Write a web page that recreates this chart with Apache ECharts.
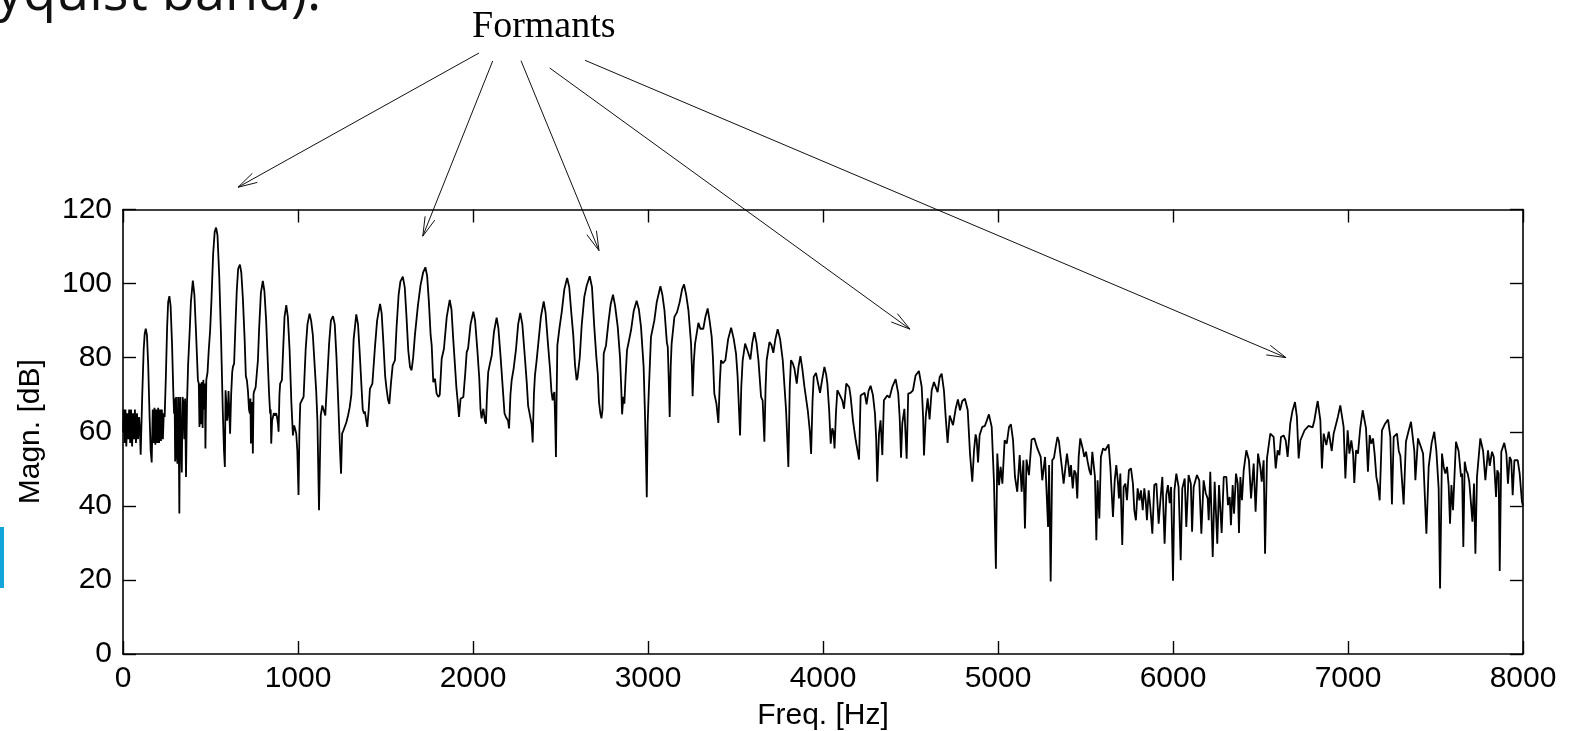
<!DOCTYPE html>
<html><head><meta charset="utf-8">
<script src="https://cdn.jsdelivr.net/npm/echarts@6/dist/echarts.min.js"></script>
<style>html,body{margin:0;padding:0;background:#fff;overflow:hidden}#c{width:1570px;height:731px}</style>
</head><body><div id="c"></div>
<script>
// Spectrum values: [frequency Hz, magnitude dB]
const band0k = [[0,60],[4,66],[9,57],[14,66],[19,56],[25,65],[30,58],[35,66],[41,57],[46,66],[52,56],[57,65],[63,58],[68,66],[74,57],[80,65],[86,58],[92,64],[97,60],[101,53.8],[110,70],[118,82],[124,86.5],[130,87.8],[137,86],[144,78],[152,64],[158,55],[164,51.7],[170,66],[175,57],[180,66.5],[185,56.5],[190,66],[196,57],[201,66.5],[206,57],[212,66],[217,57.5],[222,66],[228,58],[233,65],[238,64],[245,75],[252,88],[258,95],[265,96.6],[272,94],[280,84],[288,70],[292,64.9],[295,69],[298,52],[303,69.4],[307,54],[311,51.4],[315,69.4],[319,56],[322,37.9],[326,69.4],[331,58],[336,49],[340,69.4],[345,68],[350,58],[355,69],[360,47.8],[366,68],[372,78],[380,86],[388,95],[399,100.8],[408,97],[418,86],[428,74],[433,73],[437,61.3],[441,73],[446,62],[450,73.4],[455,61],[459,74],[464,66],[468,73],[471,55.5],[476,74],[483,76],[490,82],[498,87.4],[505,95],[515,108],[524,114],[532,115.1],[540,113],[550,102],[560,86],[570,66],[577,55],[582,50.5],[586,71.2],[590,68],[595,63],[599,64.9],[603,71],[607,66],[612,59.5],[618,70],[624,76],[628,77.5],[635,78.4],[642,88],[650,98],[658,104],[668,105.1],[676,103],[685,96],[695,85],[702,75],[708,73.9],[714,71],[720,66],[725,64.9],[728,69],[731,56.8],[735,68],[739,64.9],[742,54.1],[746,70],[748,70.7],[752,71],[758,72],[765,76],[771,79.3],[778,88],[788,97.5],[799,100.7],[808,98],[818,90],[828,78],[835,70],[841,64.9],[844,66],[847,56.8],[852,63],[856,63.1],[862,65],[868,64.4],[875,65],[880,64],[886,62],[889,60],[894,70],[898,73],[908,73.9],[915,82],[923,91],[933,94.2],[942,91],[952,82],[962,68],[971,59],[978,61.7],[985,60.5],[990,59.5],[996,55]];
const band1k = [[1003,42.9],[1008,60],[1013,67.6],[1022,68.5],[1032,69.4],[1044,82.4],[1054,89],[1066,91.9],[1075,90],[1085,86],[1095,78],[1104,71],[1111,63],[1120,38.8],[1130,64.4],[1139,67.1],[1148,66.7],[1156,64.4],[1166,73.4],[1178,84],[1188,90],[1200,91.2],[1210,89],[1220,80],[1230,68],[1240,55],[1246,48.7],[1252,59.5],[1260,60.4],[1267,60.9],[1276,62.5],[1286,64.4],[1295,66.5],[1305,70],[1318,85],[1333,91.7],[1343,89],[1353,81],[1363,72],[1370,66],[1377,64.9],[1382,65.5],[1388,63.6],[1396,61.3],[1404,66],[1411,71.6],[1425,73],[1440,83],[1452,90],[1469,94.5],[1478,92],[1488,84],[1498,75],[1506,71.6],[1515,68.5],[1522,67.5],[1531,73],[1541,77.9],[1554,79.3],[1563,88],[1575,97],[1585,100.5],[1599,101.9],[1610,99],[1620,91],[1630,82],[1640,77.5],[1649,76.6],[1658,80],[1668,86],[1685,94],[1700,99.5],[1715,103],[1728,104.4],[1738,102],[1748,95],[1758,86],[1764,83.3],[1773,73.4],[1783,74.3],[1792,70.3],[1802,69.4],[1810,70],[1821,79.7],[1834,82.4],[1850,91],[1867,95.6],[1877,93],[1887,85],[1897,77.9],[1905,72],[1912,68.5],[1920,64],[1929,68.9],[1945,69.4],[1956,76],[1964,81.5],[1972,82.5],[1986,89],[2002,92.4]];
const band2k = [[2012,90],[2025,82],[2036,74.3],[2043,66],[2049,63.6],[2054,65],[2059,66.2],[2064,64.5],[2068,63],[2074,62.2],[2080,70],[2087,76.1],[2095,78],[2107,80.6],[2120,87],[2135,90.8],[2145,88],[2158,80],[2173,69.8],[2180,65],[2188,64],[2195,64.5],[2200,63],[2206,60.9],[2214,70],[2221,73.9],[2232,77],[2246,82.4],[2258,89],[2270,92.1],[2282,89],[2295,81],[2307,73.4],[2315,67],[2322,65.3],[2328,65.8],[2335,62],[2341,57.1],[2348,70],[2354,75.2],[2363,79],[2373,83.8],[2388,91],[2404,95.2],[2415,92],[2428,84],[2440,77],[2448,71],[2455,68.5],[2460,70],[2465,70.7],[2470,62],[2474,53.2],[2478,70],[2482,83.3],[2494,88],[2507,92.3],[2522,98.5],[2538,101.5],[2550,99],[2562,92],[2573,86],[2583,78],[2592,73.9],[2597,74.5],[2602,74.8],[2610,80],[2621,88.7],[2636,96.4],[2650,99.5],[2667,102],[2680,99],[2693,88.3],[2705,80],[2713,75.7],[2720,68],[2728,64.9],[2734,63.6],[2740,66],[2747,81.1],[2760,83.3],[2774,89.6],[2787,94.5],[2800,97],[2812,94],[2827,88.3],[2840,80.2],[2847,72],[2852,64.7],[2859,69.4],[2865,67.6],[2872,75],[2880,82],[2893,85],[2903,87.4],[2918,92.5],[2935,95.4],[2948,93],[2960,88.3],[2975,77.5],[2982,66],[2988,54]];
const band3k = [[2993,42.3],[2998,62],[3004,70.3],[3017,85.6],[3036,90],[3050,95],[3071,99.3],[3082,97],[3094,92.8],[3108,84],[3113,82.9],[3118,75],[3124,64],[3130,78],[3135,83.8],[3151,91],[3166,92.3],[3181,95],[3195,98.5],[3206,99.8],[3218,97],[3231,92.8],[3246,83.8],[3251,77],[3255,69.6],[3262,79],[3269,83.8],[3288,89.4],[3299,87.8],[3316,87.8],[3328,91],[3341,93.3],[3352,90],[3364,85.6],[3371,80],[3379,70.3],[3391,67.6],[3402,62.4],[3410,73],[3417,79.3],[3428,78.5],[3442,79.3],[3458,85],[3475,88.1],[3490,85],[3503,81.1],[3512,75],[3520,66],[3526,59],[3533,72],[3541,79.3],[3555,83.8],[3568,82],[3585,79.5],[3596,84],[3608,86.9],[3620,84],[3631,79.3],[3646,69.4],[3655,68.5],[3665,57.3],[3672,72],[3678,79.3],[3694,84.2],[3705,83.5],[3716,81.3],[3728,85],[3741,87.7],[3755,85],[3770,79.3],[3789,65.8],[3796,58],[3802,50.5],[3810,72],[3817,79.3],[3827,78.5],[3837,77],[3850,73],[3860,77.5],[3871,80.4],[3882,77],[3894,72.1],[3913,65.8],[3925,60],[3932,54],[3940,68],[3947,74.8],[3960,75.9],[3972,73],[3983,70.5],[3995,74]];
const band4k = [[4008,77.5],[4018,75.5],[4025,73],[4035,66],[4044,56.8],[4053,60.9],[4060,60],[4066,55.5],[4074,65],[4082,71.2],[4090,70.5],[4101,69.4],[4110,68.5],[4120,66.2],[4133,73],[4143,73.2],[4150,72],[4158,69.4],[4171,63.1],[4180,60],[4187,57.7],[4196,58],[4206,52.5],[4215,69.8],[4225,70.2],[4238,70.5],[4249,67.4],[4260,71],[4272,72.4],[4285,70],[4297,64.9],[4304,58],[4310,46.5],[4320,59.5],[4329,63.1],[4339,53.7],[4348,68.5],[4367,69.8],[4380,69.2],[4396,72.1],[4415,74.2],[4430,70.3],[4438,64],[4446,53],[4453,62.2],[4465,66.2],[4478,52.7],[4487,70.3],[4500,70.5],[4514,71.2],[4529,75.2],[4548,76.4],[4564,72.1],[4572,64],[4577,53.6],[4587,64],[4598,69],[4609,63.3],[4621,71.2],[4634,73.4],[4645,73.2],[4655,70.7],[4667,74.8],[4678,75.7],[4691,71.2],[4701,64],[4712,57],[4724,64.4],[4732,64.6],[4743,61.8],[4758,66.2],[4771,68.7],[4783,65.8],[4796,68.3],[4811,68.9],[4827,65.8],[4840,54.1],[4853,46.5],[4863,55],[4872,59.3],[4878,58],[4886,51.7],[4895,59.1],[4910,61.3],[4924,61.5],[4936,63],[4948,64.7],[4964,61.3],[4977,46.5],[4988,23],[4996,54.1]];
const band5k = [[5006,45.6],[5015,50.5],[5025,46],[5038,57.7],[5050,56.8],[5063,61.3],[5074,62],[5086,57.7],[5097,47.8],[5110,43.8],[5124,53.7],[5135,43.8],[5145,52.3],[5154,33.9],[5163,52.5],[5177,48.3],[5192,57.9],[5208,58.2],[5225,55.5],[5244,53.2],[5253,46.9],[5269,53.2],[5278,43.3],[5286,34.3],[5292,51],[5301,19.6],[5310,52.3],[5320,53],[5330,56],[5340,58.6],[5348,57.5],[5356,54.1],[5366,50],[5375,46],[5380,45.6],[5394,54.1],[5404,50.5],[5409,47.8],[5417,51],[5427,44.7],[5436,49.6],[5445,48.7],[5453,42],[5461,53.2],[5470,58.2],[5484,55.5],[5493,53.2],[5503,54.6],[5512,52],[5522,49.6],[5531,48.3],[5539,54.6],[5547,54.6],[5554,47.8],[5562,30.7],[5569,46.9],[5579,36.6],[5588,53.2],[5600,55.5],[5613,55],[5632,56.6],[5642,50.5],[5657,37],[5667,46.9],[5676,51],[5686,46],[5691,42],[5699,48.7],[5710,29.4],[5718,45.1],[5728,46],[5737,41.5],[5748,49.6],[5760,50.1],[5771,46],[5779,38.8],[5788,36.1],[5798,44.7],[5808,41.5],[5817,44.2],[5827,38.8],[5836,44.7],[5844,41.5],[5851,36.1],[5861,44.2],[5870,39.8],[5882,32.5],[5893,45.6],[5905,46],[5918,35.2],[5928,41.5],[5939,47.8],[5952,29.8],[5962,43.1],[5971,45.6],[5981,40.7],[5989,45.1]];
const band6k = [[6000,19.8],[6008,44.2],[6019,48.7],[6032,45.1],[6044,25.3],[6053,44.7],[6067,47.4],[6076,34.3],[6089,48.3],[6102,46],[6109,33],[6118,45.1],[6137,48.3],[6150,46.9],[6162,32.5],[6175,46.9],[6187,43.4],[6198,42],[6204,36.1],[6213,49.2],[6227,26.2],[6238,46.5],[6253,29.8],[6263,45.6],[6278,32.7],[6290,47.8],[6305,47.8],[6314,40.2],[6324,42.4],[6331,34.8],[6341,45.6],[6349,37.9],[6360,48.7],[6370,46],[6377,32.7],[6385,47.8],[6394,41.5],[6404,49.6],[6419,55],[6434,52.3],[6446,42],[6461,51.4],[6472,38.4],[6486,54.1],[6499,50.5],[6507,46.5],[6518,52.3],[6526,27.1],[6537,52.8],[6556,59.5],[6575,58.6],[6587,50.1],[6598,55],[6608,53.7],[6617,58.6],[6632,59],[6644,57.7],[6655,53.2],[6670,62.2],[6682,65.5],[6697,68],[6708,64],[6718,52.8],[6728,57.7],[6737,57.3],[6752,60.4],[6775,61.6],[6798,61.2],[6808,63.1],[6818,66],[6827,68.3],[6842,63.1],[6851,50.1],[6861,59.5],[6871,59.1],[6876,56.4],[6890,60],[6899,59.5],[6907,54.8],[6918,59.5],[6928,59.3],[6942,64],[6956,67.1],[6975,61.3],[6985,47.4],[6998,60.4]];
const band7k = [[7008,54.1],[7019,57.7],[7029,54.1],[7036,46.2],[7046,55],[7057,54.1],[7070,61],[7084,65.8],[7103,60.9],[7114,49.2],[7124,59.1],[7133,56.8],[7143,58.2],[7152,54.1],[7162,47.8],[7171,45.6],[7181,41.5],[7194,60.4],[7210,62],[7229,63.3],[7242,58.6],[7251,40.4],[7261,58.6],[7280,59.5],[7290,54.8],[7299,53.5],[7309,53.9],[7318,40.4],[7331,57.3],[7345,60],[7360,62.7],[7379,54.8],[7385,46.9],[7400,58.2],[7413,56.4],[7429,54.1],[7448,32.5],[7461,50.5],[7478,57],[7493,60],[7505,54.8],[7518,44.7],[7526,17.7],[7537,54.1],[7547,50.5],[7556,48.7],[7566,50.5],[7575,45.6],[7583,35.2],[7591,45.6],[7600,38.8],[7617,57.3],[7632,54.8],[7646,47.8],[7652,48.7],[7659,28.9],[7667,51.9],[7676,49.6],[7684,48.7],[7693,46.5],[7703,46],[7711,35.7],[7720,46],[7728,27.1],[7737,47.8],[7756,58.2],[7772,54.8],[7785,46.9],[7800,55],[7810,50.8],[7823,54.6],[7833,53.2],[7846,42.4],[7853,49.6],[7861,48.7],[7867,22.4],[7876,54.6],[7893,57],[7905,54.1],[7914,46],[7924,53.2],[7933,52.3],[7941,42.9],[7951,52.3],[7970,52.3],[7981,48.7],[7994,41.1],[8000,40]];

// Axis ranges / ticks
const freqRange = [0, 8000], freqStep = 1000;
const magnRange = [0, 120], magnStep = 20;

// Annotation: arrow tips in data coordinates (Hz, dB)
const arrowTipHz = [657, 1713, 2720, 4497, 6646];
const arrowTipDb = [126, 112.8, 108.9, 87.7, 80];
const annotationLabel = 'Formants';
const titleFragment = 'yquist band).';

const spectrum = [].concat(band0k, band1k, band2k, band3k, band4k, band5k, band6k, band7k);

const chart = echarts.init(document.getElementById('c'), null, {renderer: 'canvas'});
const FONT = '"Liberation Sans", Arial, Helvetica, sans-serif';
const tickFont = 30;
const plain = v => String(v);
function xAx(pos, show) {
  return {type: 'value', position: pos, min: freqRange[0], max: freqRange[1], interval: freqStep,
    axisLine: {show: true, onZero: false, lineStyle: {color: '#000', width: 1.6}},
    axisTick: {show: true, inside: true, length: 13, lineStyle: {color: '#000', width: 1.4}},
    axisLabel: {show: show, color: '#000', fontSize: tickFont, fontFamily: FONT, margin: 10, formatter: plain},
    splitLine: {show: false},
    name: show ? 'Freq. [Hz]' : '', nameLocation: 'middle', nameGap: 47,
    nameTextStyle: {color: '#000', fontSize: 30, fontFamily: FONT}};
}
function yAx(pos, show) {
  return {type: 'value', position: pos, min: magnRange[0], max: magnRange[1], interval: magnStep,
    axisLine: {show: true, onZero: false, lineStyle: {color: '#000', width: 1.6}},
    axisTick: {show: true, inside: true, length: 13, lineStyle: {color: '#000', width: 1.4}},
    axisLabel: {show: show, color: '#000', fontSize: tickFont, fontFamily: FONT, margin: 11, formatter: plain, padding: [4, 0, 0, 0]},
    splitLine: {show: false},
    name: show ? 'Magn. [dB]' : '', nameLocation: 'middle', nameGap: 77, nameRotate: 90,
    nameTextStyle: {color: '#000', fontSize: 30, fontFamily: FONT}};
}
chart.setOption({
  animation: false,
  backgroundColor: '#fff',
  grid: {left: 123, right: 47, top: 209.5, bottom: 77, containLabel: false, outerBoundsMode: 'none'},
  xAxis: [xAx('bottom', true), xAx('top', false)],
  yAxis: [yAx('left', true), yAx('right', false)],
  series: [{type: 'line', data: spectrum, xAxisIndex: 0, yAxisIndex: 0, showSymbol: false,
    symbol: 'none', sampling: null, lineStyle: {color: '#000', width: 1.8}, clip: true}]
});

// annotation arrows
const starts = [[479, 53], [492.7, 61], [521, 60.7], [549.7, 68], [585, 60.3]];
const els = [];
for (let i = 0; i < arrowTipHz.length; i++) {
  const tip = chart.convertToPixel({xAxisIndex: 0, yAxisIndex: 0}, [arrowTipHz[i], arrowTipDb[i]]);
  const s = starts[i];
  const back = Math.atan2(s[1] - tip[1], s[0] - tip[0]);
  const hl = 20, ha = 15 * Math.PI / 180;
  const p1 = [tip[0] + hl * Math.cos(back + ha), tip[1] + hl * Math.sin(back + ha)];
  const p2 = [tip[0] + hl * Math.cos(back - ha), tip[1] + hl * Math.sin(back - ha)];
  els.push({type: 'line', silent: true, shape: {x1: s[0], y1: s[1], x2: tip[0], y2: tip[1]}, style: {stroke: '#111', lineWidth: 1}});
  els.push({type: 'polyline', silent: true, shape: {points: [p1, tip, p2]}, style: {stroke: '#111', lineWidth: 1, fill: null}});
}
els.push({type: 'text', silent: true, style: {text: annotationLabel, x: 472, y: 27.5, font: '38px "Liberation Serif", "Times New Roman", serif', fill: '#000', textAlign: 'left', textVerticalAlign: 'middle', align: 'left', verticalAlign: 'middle'}});
els.push({type: 'text', silent: true, style: {text: titleFragment, x: -4, y: -5, font: '54px "Open Sans", sans-serif', fill: '#111', textAlign: 'left', textVerticalAlign: 'middle', align: 'left', verticalAlign: 'middle'}});
els.push({type: 'rect', silent: true, shape: {x: 0, y: 527, width: 4, height: 61}, style: {fill: '#11a5dc'}});
chart.setOption({graphic: {elements: els}});
</script>
</body></html>
